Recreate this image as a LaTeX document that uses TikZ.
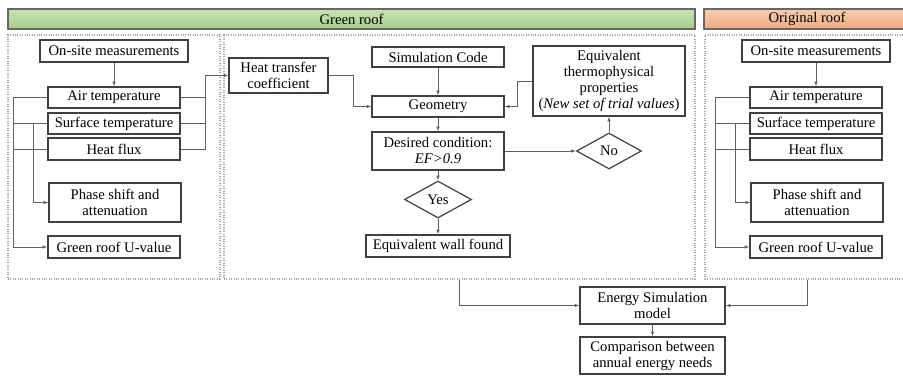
\documentclass[tikz,border=0pt]{standalone}
\usepackage{fontspec}
\setmainfont{Liberation Serif}
\usetikzlibrary{arrows.meta,shapes.geometric}

\definecolor{barGreenT}{RGB}{200,226,182}
\definecolor{barGreenB}{RGB}{165,206,136}
\definecolor{barOrangeT}{RGB}{248,204,176}
\definecolor{barOrangeB}{RGB}{242,170,128}
\definecolor{boxline}{RGB}{64,64,64}
\definecolor{wireline}{RGB}{96,96,96}

\tikzset{every picture/.style={line width=0.75pt}}
\tikzset{
  box/.style={draw=boxline, line width=0.9pt, fill=white, inner sep=1pt, align=center, font=\fontsize{11}{12}\selectfont},
  choice/.style={diamond, draw=boxline, line width=0.9pt, fill=white, inner sep=0pt, aspect=1.8, font=\fontsize{11}{12}\selectfont},
  panel/.style={draw=gray!70, densely dotted, line width=0.8pt, inner sep=0pt},
  bar/.style={draw=boxline!80, line width=0.8pt, inner sep=0pt, font=\fontsize{11}{12}\selectfont},
  wire/.style={draw=wireline, line width=0.6pt},
  arr/.style={wire, -{Latex[length=3.5pt,width=2.6pt]}}
}

\begin{document}
\begin{tikzpicture}[x=0.75pt,y=0.75pt,yscale=-1,xscale=1]
	%set diagram left start at 0, and has height of 375
	\useasboundingbox (0,0) rectangle (903,375);

	%Header bars
	\node (hdrG) [bar, top color=barGreenT, bottom color=barGreenB, minimum width=515.25pt, minimum height=15pt] at (351.5,19) {Green roof};
	\node (hdrO) [bar, top color=barOrangeT, bottom color=barOrangeB, minimum width=154.5pt, minimum height=15pt] at (807,19) {Original roof};

	%Dotted panels
	\node (panL) [panel, minimum width=159pt, minimum height=183pt] at (114,157) {};
	\node (panM) [panel, minimum width=353.25pt, minimum height=183pt] at (459.5,157) {};
	\node (panR) [panel, minimum width=153.75pt, minimum height=183pt] at (807.5,157) {};

	% Text Node : measurements, green roof
	\node (onsiteL) [box, minimum width=111pt, minimum height=16.5pt] at (114,51) {On-site measurements};
	\node (airL) [box, minimum width=99pt, minimum height=15.75pt] at (114,97.5) {Air temperature};
	\node (surfL) [box, minimum width=99pt, minimum height=15.75pt] at (114,123.5) {Surface temperature};
	\node (fluxL) [box, minimum width=99pt, minimum height=16.5pt] at (114,149) {Heat flux};
	\node (phaseL) [box, minimum width=99pt, minimum height=29.25pt] at (115,202.5) {Phase shift and\\attenuation};
	\node (uvalL) [box, minimum width=99pt, minimum height=16.5pt] at (114,247) {Green roof U-value};

	% Text Node : measurements, original roof
	\node (onsiteR) [box, minimum width=111pt, minimum height=16.5pt] at (816,51) {On-site measurements};
	\node (airR) [box, minimum width=99pt, minimum height=15.75pt] at (816,97.5) {Air temperature};
	\node (surfR) [box, minimum width=99pt, minimum height=15.75pt] at (816,123.5) {Surface temperature};
	\node (fluxR) [box, minimum width=99pt, minimum height=16.5pt] at (816,149) {Heat flux};
	\node (phaseR) [box, minimum width=99pt, minimum height=29.25pt] at (817,202.5) {Phase shift and\\attenuation};
	\node (uvalR) [box, minimum width=99pt, minimum height=16.5pt] at (816,247) {Green roof U-value};

	% Text Node : equivalent wall search
	\node (htc) [box, minimum width=74.25pt, minimum height=26.25pt] at (278.5,75.5) {Heat transfer\\coefficient};
	\node (simc) [box, minimum width=99pt, minimum height=15pt] at (438,57) {Simulation Code};
	\node (geom) [box, minimum width=99pt, minimum height=15.75pt] at (438,106.5) {Geometry};
	\node (cond) [box, minimum width=99pt, minimum height=28.5pt] at (438,151) {Desired condition:\\\textit{EF>0.9}};
	\node (yes) [choice, minimum width=50.25pt, minimum height=27.75pt] at (438,199.5) {Yes};
	\node (found) [box, minimum width=108pt, minimum height=16.5pt] at (438,246) {Equivalent wall found};
	\node (equiv) [box, minimum width=114pt, minimum height=52.5pt] at (609,81) {Equivalent\\thermophysical\\properties\\(\textit{New set of trial values})};
	\node (no) [choice, minimum width=48.75pt, minimum height=27pt] at (609,151) {No};

	% Text Node : energy model
	\node (esm) [box, minimum width=108.75pt, minimum height=27.75pt] at (652.5,305.5) {Energy Simulation\\model};
	\node (comp) [box, minimum width=108.75pt, minimum height=27.75pt] at (652.5,355.5) {Comparison between\\annual energy needs};

	%Straight Lines : green roof measurements
	\draw [arr] (onsiteL) -- (airL);
	\draw [arr] (airL.west) -- ++(-34,0) |- (uvalL.west);
	\draw [wire] (surfL.west) -- ++(-34,0);
	\draw [wire] (fluxL.west) -- ++(-34,0);
	\draw [arr] (surfL.west) ++(-14,0) |- (phaseL.west);
	\draw [wire] (airL.east) -- ++(25,0);
	\draw [wire] (surfL.east) -- ++(25,0);
	\draw [arr] (fluxL.east) -- ++(25,0) |- (htc.west);

	%Straight Lines : original roof measurements
	\draw [arr] (onsiteR) -- (airR);
	\draw [arr] (airR.west) -- ++(-34,0) |- (uvalR.west);
	\draw [wire] (surfR.west) -- ++(-34,0);
	\draw [wire] (fluxR.west) -- ++(-34,0);
	\draw [arr] (surfR.west) ++(-14,0) |- (phaseR.west);

	%Straight Lines : iteration loop
	\draw [arr] (htc.east) -- ++(25,0) |- (geom.west);
	\draw [arr] (simc) -- (geom);
	\draw [arr] (geom) -- (cond);
	\draw [arr] (cond) -- (yes);
	\draw [arr] (yes) -- (found);
	\draw [arr] (cond) -- (no);
	\draw [arr] (no) -- (equiv);
	\draw [arr] (equiv.west) -- ++(-15,0) |- (geom.east);

	%Straight Lines : energy model
	\draw [arr] (panM.south) |- (esm.west);
	\draw [arr] (panR.south) |- (esm.east);
	\draw [arr] (esm) -- (comp);

\end{tikzpicture}
\end{document}
